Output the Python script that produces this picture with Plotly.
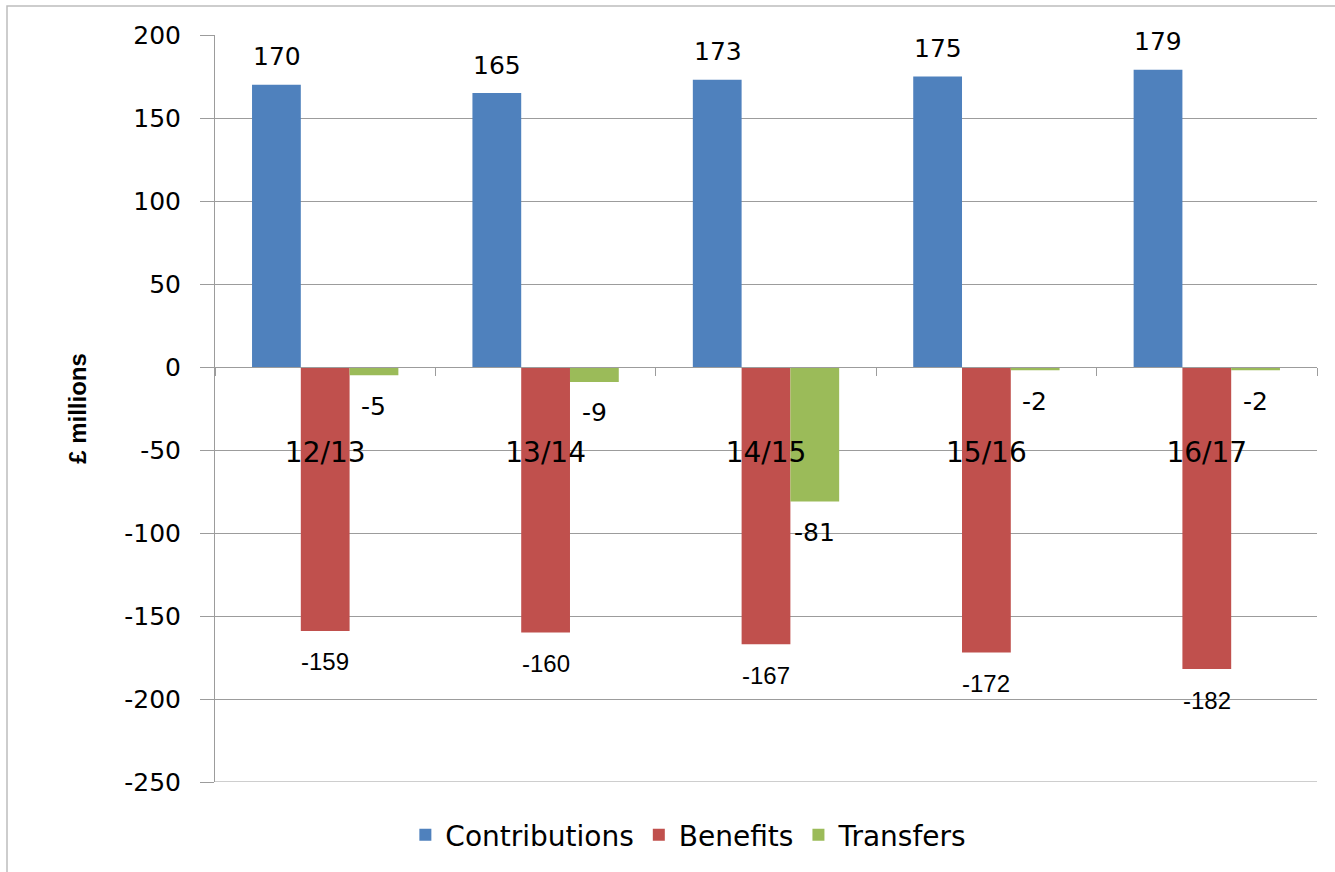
import plotly.graph_objects as go

categories = ["12/13", "13/14", "14/15", "15/16", "16/17"]
contributions = [170, 165, 173, 175, 179]
benefits = [-159, -160, -167, -172, -182]
transfers = [-5, -9, -81, -2, -2]
y_ticks = [200, 150, 100, 50, 0, -50, -100, -150, -200, -250]

Y_MIN, Y_MAX = -250, 200
BLUE, RED, GREEN = "#4F81BD", "#C0504D", "#9BBB59"
GRID = "#9C9C9C"

fig = go.Figure()
series = [("Contributions", contributions, BLUE),
          ("Benefits", benefits, RED),
          ("Transfers", transfers, GREEN)]
for name, vals, col in series:
    fig.add_trace(go.Bar(x=categories, y=vals, name=name,
                         marker=dict(color=col, line=dict(width=0))))

# data labels
BAR_PX = 48.5
label_fonts = {
    "Contributions": dict(family="DejaVu Sans", size=25, color="black"),
    "Benefits": dict(family="Liberation Sans", size=24, color="black"),
    "Transfers": dict(family="DejaVu Sans", size=25, color="black"),
}
for i, (name, vals, col) in enumerate(series):
    for c, v in zip(categories, vals):
        fig.add_annotation(x=c, y=v, xref="x", yref="y", text=str(v),
                           showarrow=False, xshift=(i - 1) * BAR_PX,
                           yshift=28 if v > 0 else -31,
                           yanchor="middle", xanchor="center",
                           font=label_fonts[name])

zero_pos = (0 - Y_MIN) / (Y_MAX - Y_MIN)

fig.update_layout(
    width=1335, height=872,
    margin=dict(l=215, r=18, t=35, b=90),
    paper_bgcolor="white", plot_bgcolor="white",
    barmode="group", bargap=0.336, bargroupgap=0,
    showlegend=True,
    legend=dict(orientation="h", x=0.43, xanchor="center", y=-0.071, yanchor="middle",
                font=dict(family="DejaVu Sans", size=28, color="black"),
                itemsizing="constant", traceorder="normal"),
    xaxis=dict(type="category", anchor="free", position=zero_pos,
               showline=True, linecolor=GRID, linewidth=1,
               ticks="outside", tickson="boundaries", ticklen=8, tickcolor=GRID,
               showgrid=False, zeroline=False,
               tickfont=dict(family="DejaVu Sans", size=28, color="black"),
               ticklabelstandoff=60),
    yaxis=dict(range=[Y_MIN, Y_MAX], tickvals=y_ticks,
               ticktext=[str(t) for t in y_ticks],
               showgrid=True, gridcolor=GRID, gridwidth=1,
               zeroline=False, showline=True, linecolor=GRID, linewidth=1,
               ticks="outside", ticklen=14, tickcolor=GRID,
               tickfont=dict(family="DejaVu Sans", size=25, color="black"),
               ticklabelstandoff=14,
               title=dict(text="<b>£ millions</b>", standoff=30,
                          font=dict(family="Liberation Sans Narrow, Liberation Sans", size=24,
                                    color="black"))),
    font=dict(family="DejaVu Sans", color="black"),
)

# bottom gridline at the axis minimum
fig.add_shape(type="line", xref="paper", yref="y", x0=0, x1=1, y0=Y_MIN, y1=Y_MIN,
              line=dict(color=GRID, width=1), layer="below")

# outer chart border (top and left visible)
fig.add_shape(type="rect", xref="paper", yref="paper",
              x0=(7 - 215) / 1102, x1=(1345 - 215) / 1102,
              y0=(782 - 885) / 747, y1=(782 - 6) / 747,
              line=dict(color="#BDBDBD", width=1.5), layer="below")

fig.write_html("out.html")
